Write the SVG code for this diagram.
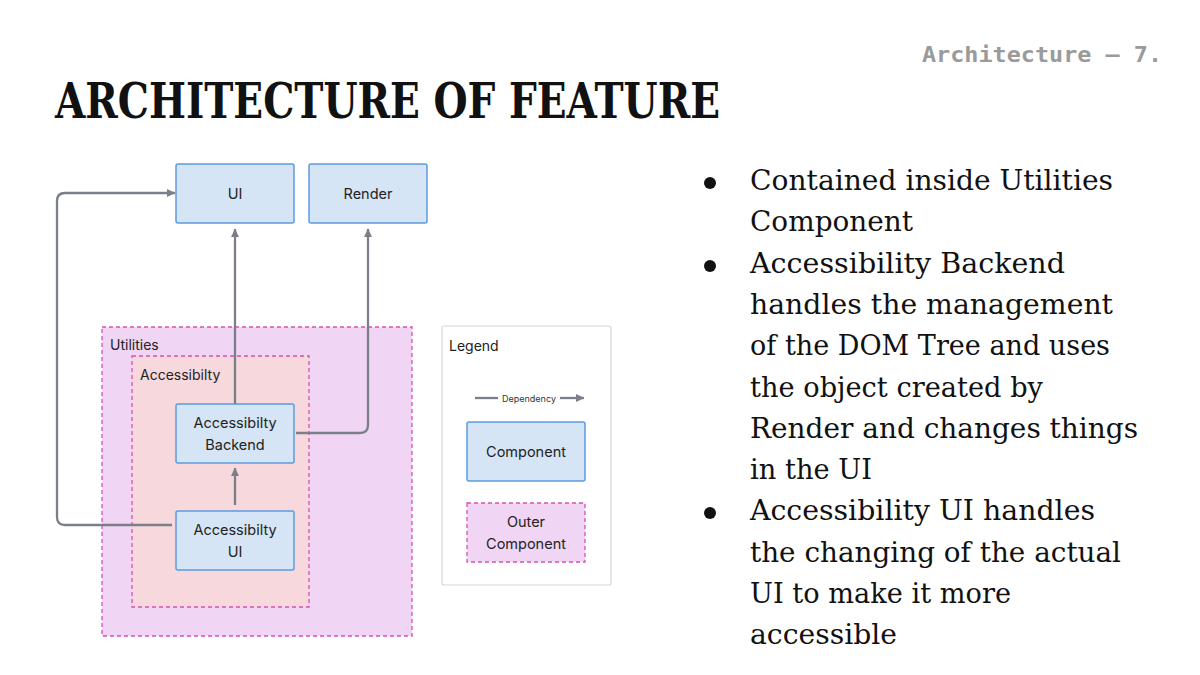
<svg xmlns="http://www.w3.org/2000/svg" width="1200" height="675" viewBox="0 0 1200 675">
<defs>
<style>
.title{font-family:"DejaVu Serif Condensed","DejaVu Serif",serif;font-weight:bold;font-size:49px;fill:#111}
.hdr{font-family:"DejaVu Sans Mono","Liberation Mono",monospace;font-weight:bold;font-size:21px;fill:#9a9a9a}
.body{font-family:"DejaVu Serif","Liberation Serif",serif;font-size:27px;fill:#111}
.lbl{font-family:Inter,"Noto Sans",sans-serif;font-size:14px;fill:#222}
.nt{font-family:Inter,"Noto Sans",sans-serif;font-size:14.5px;fill:#222;text-anchor:middle}
.comp{fill:#d5e5f6;stroke:#5b9be0;stroke-width:1.5}
.outer{fill:#f1d5f4;stroke:#d94fb5;stroke-width:1.3;stroke-dasharray:4 3}
.inner{fill:#f6d8dd;stroke:#d94fb5;stroke-width:1.3;stroke-dasharray:4 3}
.conn{fill:none;stroke:#7b8088;stroke-width:2.3}
</style>
<marker id="ah" markerWidth="9" markerHeight="9" refX="8" refY="4.5" orient="auto" markerUnits="userSpaceOnUse">
<path d="M0,0.5 L8.5,4.5 L0,8.5 Z" fill="#7b8088"/>
</marker>
</defs>
<rect width="1200" height="675" fill="#ffffff"/>

<text class="hdr" x="922" y="62" textLength="240" lengthAdjust="spacingAndGlyphs">Architecture — 7.</text>
<text class="title" x="55" y="118" textLength="665" lengthAdjust="spacingAndGlyphs">ARCHITECTURE OF FEATURE</text>

<g id="bullets">
<circle cx="710" cy="183" r="6" fill="#111"/>
<circle cx="710" cy="266" r="6" fill="#111"/>
<circle cx="710" cy="513" r="6" fill="#111"/>
<text class="body" x="750" y="190" textLength="363" lengthAdjust="spacingAndGlyphs">Contained inside Utilities</text>
<text class="body" x="750" y="231" textLength="163" lengthAdjust="spacingAndGlyphs">Component</text>
<text class="body" x="750" y="273" textLength="315" lengthAdjust="spacingAndGlyphs">Accessibility Backend</text>
<text class="body" x="750" y="314" textLength="363" lengthAdjust="spacingAndGlyphs">handles the management</text>
<text class="body" x="750" y="355" textLength="360" lengthAdjust="spacingAndGlyphs">of the DOM Tree and uses</text>
<text class="body" x="750" y="397" textLength="293" lengthAdjust="spacingAndGlyphs">the object created by</text>
<text class="body" x="750" y="438" textLength="388" lengthAdjust="spacingAndGlyphs">Render and changes things</text>
<text class="body" x="750" y="479" textLength="122" lengthAdjust="spacingAndGlyphs">in the UI</text>
<text class="body" x="750" y="520" textLength="345" lengthAdjust="spacingAndGlyphs">Accessibility UI handles</text>
<text class="body" x="750" y="562" textLength="371" lengthAdjust="spacingAndGlyphs">the changing of the actual</text>
<text class="body" x="750" y="603" textLength="261" lengthAdjust="spacingAndGlyphs">UI to make it more</text>
<text class="body" x="750" y="644" textLength="147" lengthAdjust="spacingAndGlyphs">accessible</text>
</g>

<g id="utilities">
<rect class="outer" x="102" y="327" width="310" height="309"/>
<text class="lbl" x="110" y="350">Utilities</text>
</g>
<g id="accessibility">
<rect class="inner" x="132" y="356" width="177" height="251"/>
<text class="lbl" x="140" y="380">Accessibilty</text>
</g>

<g id="ui">
<rect class="comp" x="176" y="164" width="118" height="59" rx="2"/>
<text class="nt" x="235" y="199">UI</text>
</g>
<g id="render">
<rect class="comp" x="309" y="164" width="118" height="59" rx="2"/>
<text class="nt" x="368" y="199">Render</text>
</g>
<g id="acc-backend">
<rect class="comp" x="176" y="404" width="118" height="59" rx="2"/>
<text class="nt" x="235" y="428">Accessibilty</text>
<text class="nt" x="235" y="450">Backend</text>
</g>
<g id="acc-ui">
<rect class="comp" x="176" y="511" width="118" height="59" rx="2"/>
<text class="nt" x="235" y="535">Accessibilty</text>
<text class="nt" x="235" y="557">UI</text>
</g>

<g id="connectors">
<path class="conn" d="M235,404 L235,229" marker-end="url(#ah)"/>
<path class="conn" d="M296,433 L360,433 Q368,433 368,425 L368,229" marker-end="url(#ah)"/>
<path class="conn" d="M235,505 L235,468" marker-end="url(#ah)"/>
<path class="conn" d="M172,525 L65,525 Q57,525 57,517 L57,201 Q57,193 65,193 L175,193" marker-end="url(#ah)"/>
</g>

<g id="legend">
<rect x="442" y="326" width="169" height="259" rx="2" fill="#ffffff" stroke="#d4d6da" stroke-width="1.2"/>
<text class="lbl" x="449" y="351">Legend</text>
<path class="conn" d="M475,398 L498,398"/>
<path class="conn" d="M560,398 L584,398" marker-end="url(#ah)"/>
<text x="529" y="401.5" font-family="Inter,'Noto Sans',sans-serif" font-size="9" fill="#333" text-anchor="middle">Dependency</text>
<rect class="comp" x="467" y="422" width="118" height="59" rx="2"/>
<text class="nt" x="526" y="457">Component</text>
<rect class="outer" x="467" y="503" width="118" height="59"/>
<text class="nt" x="526" y="527">Outer</text>
<text class="nt" x="526" y="549">Component</text>
</g>
</svg>
